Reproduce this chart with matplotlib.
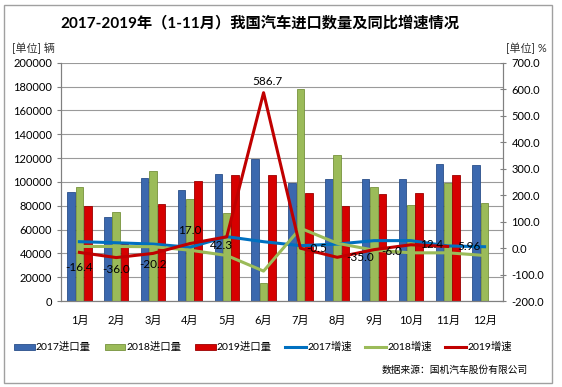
import numpy as np
import matplotlib
matplotlib.use("Agg")
from matplotlib import pyplot as plt
from matplotlib.patches import Rectangle

plt.rcParams['font.family'] = ['Lato', 'Noto Sans CJK SC', 'DejaVu Sans']

months = ['1月', '2月', '3月', '4月', '5月', '6月', '7月', '8月', '9月', '10月', '11月', '12月']

# import volume, vehicles
imp_2017 = [91200, 70200, 103000, 93100, 106600, 119200, 98800, 102600, 102600, 102600, 115000, 114400]
imp_2018 = [96000, 74900, 109100, 85300, 74100, 15400, 177700, 122300, 95400, 80300, 99300, 82500]
imp_2019 = [80000, 47500, 81100, 100700, 105500, 105500, 90900, 79700, 89800, 90600, 105500]

# year-on-year growth, %
gr_2017 = [24, 20, 15, 3, 43, 24, 9, 15, 28, 28, 8, 5]
gr_2018 = [6, 6, 5, -8, -28, -87, 75, 18, -8, -18, -18, -28]
gr_2019 = [-16.4, -36.0, -20.2, 17.0, 42.3, 586.7, -0.5, -35.0, -6.0, 12.4, 5.96]
labels_2019 = ['-16.4', '-36.0', '-20.2', '17.0', '42.3', '586.7', '-0.5', '-35.0', '-6.0', '12.4', '5.96']
# label offsets in pixels (dx, dy)
label_off = [(0, -15), (0, -12), (0, -11), (0, 13), (-5, -9), (4, 11),
             (16, 0), (23, 0), (18, -2), (21, 0), (21, 0)]

fig = plt.figure(figsize=(5.62, 3.87), dpi=100)
fig.patches.append(Rectangle((0.007, 0.01), 0.975, 0.978, transform=fig.transFigure,
                             fill=False, edgecolor='#a0a0a0', linewidth=1.0))
ax = fig.add_axes([0.1085, 0.2222, 0.7865, 0.6158])
ax2 = ax.twinx()

x = np.arange(len(months))
w = 0.205
step = 0.227
ax.bar(x - step, imp_2017, w, color='#3b68ae', edgecolor='#2a4f8a', linewidth=0.6, label='2017进口量', zorder=2)
ax.bar(x, imp_2018, w, color='#9bbb59', edgecolor='#76923c', linewidth=0.6, label='2018进口量', zorder=2)
ax.bar(x[:len(imp_2019)] + step, imp_2019, w, color='#d60000', edgecolor='#9c0000', linewidth=0.6,
       label='2019进口量', zorder=2)

ax.set_xlim(-0.5, 11.5)
ax.set_ylim(0, 200000)
ax.set_yticks(np.arange(0, 200001, 20000))
ax.yaxis.grid(True, color='#9a9a9a', linewidth=0.8, zorder=0)
ax.set_axisbelow(True)
ax.set_xticks(x)
ax.set_xticklabels(months, fontsize=8)
ax.tick_params(axis='x', length=0, pad=10)
ax.tick_params(axis='y', labelsize=8, length=3, direction='out', color='#808080')

ax2.plot(x, gr_2017, color='#0070c0', linewidth=2.2, label='2017增速', zorder=4)
ax2.plot(x, gr_2018, color='#9bbb59', linewidth=2.2, label='2018增速', zorder=4)
ax2.plot(x[:len(gr_2019)], gr_2019, color='#c00000', linewidth=2.2, label='2019增速', zorder=4)
ax2.set_ylim(-200, 700)
ax2.set_yticks(np.arange(-200, 701, 100))
ax2.set_yticklabels([f'{v:.1f}' for v in np.arange(-200, 701, 100)])
ax2.tick_params(axis='y', labelsize=8, length=5, direction='inout', color='#808080')

for i, (v, t) in enumerate(zip(gr_2019, labels_2019)):
    ax2.annotate(t, (x[i], v), xytext=label_off[i], textcoords='offset pixels',
                 ha='center', va='center', fontsize=8.5, zorder=5)

ax2.set_zorder(ax.get_zorder() + 1)
ax2.patch.set_visible(False)

for a in (ax, ax2):
    a.spines['top'].set_visible(False)
    a.spines['left'].set_color('#808080')
    a.spines['right'].set_color('#808080')
    a.spines['bottom'].set_color('#808080')

fig.text(0.463, 0.94, '2017-2019年（1-11月）我国汽车进口数量及同比增速情况',
         ha='center', va='center', fontsize=11, fontweight='bold')
fig.text(0.022, 0.875, '[单位] 辆', ha='left', va='center', fontsize=8, color='#333333')
fig.text(0.972, 0.875, '[单位] %', ha='right', va='center', fontsize=8, color='#333333')

h1, l1 = ax.get_legend_handles_labels()
h2, l2 = ax2.get_legend_handles_labels()
fig.legend(h1 + h2, l1 + l2, loc='center', bbox_to_anchor=(0.468, 0.103), ncol=6,
           frameon=False, fontsize=7.5, handlelength=2.0, handleheight=0.5,
           columnspacing=1.3, handletextpad=0.1)
fig.text(0.94, 0.044, '数据来源：国机汽车股份有限公司', ha='right', va='center', fontsize=7)

fig.savefig('out.png', dpi=100)
